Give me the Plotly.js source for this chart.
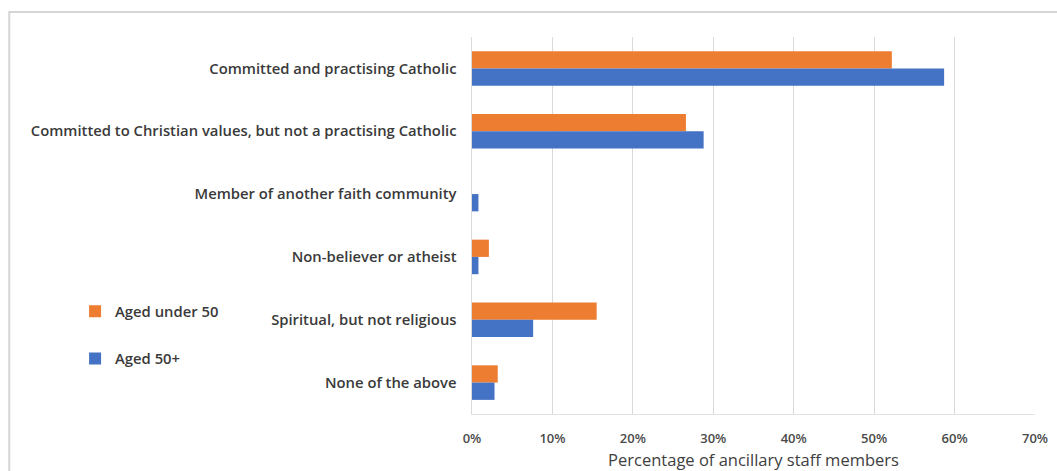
<!DOCTYPE html>
<html>
<head>
<meta charset="utf-8">
<script src="https://cdn.plot.ly/plotly-3.0.1.min.js"></script>
<style>
  html, body { margin: 0; padding: 0; background: #ffffff; }
  #chart { width: 1057px; height: 471px; }
</style>
</head>
<body>
<div id="chart"></div>
<script>
const categories = [
  "Committed and practising Catholic",
  "Committed to Christian values, but not a practising Catholic",
  "Member of another faith community",
  "Non-believer or atheist",
  "Spiritual, but not religious",
  "None of the above"
];
const under50 = [0.522, 0.266, 0.0, 0.021, 0.155, 0.032];
const over50 = [0.587, 0.288, 0.008, 0.008, 0.076, 0.028];
const seriesNames = ["Aged under 50", "Aged 50+"];
const xTicks = [0, 0.1, 0.2, 0.3, 0.4, 0.5, 0.6, 0.7];
const xTickLabels = ["0%", "10%", "20%", "30%", "40%", "50%", "60%", "70%"];
const axisTitle = "Percentage of ancillary staff members";

const font = "Open Sans, Noto Sans, Liberation Sans, sans-serif";

const traces = [
  {
    type: "bar", orientation: "h", name: seriesNames[0],
    x: under50, y: categories,
    marker: { color: "#ED7D31" },
    legendgroup: "a", hoverinfo: "x+y"
  },
  {
    type: "bar", orientation: "h", name: seriesNames[1],
    x: over50, y: categories,
    marker: { color: "#4472C4" },
    legendgroup: "b", hoverinfo: "x+y"
  }
];

const layout = {
  width: 1057, height: 471,
  margin: { l: 472, r: 22, t: 37, b: 57 },
  paper_bgcolor: "#ffffff",
  plot_bgcolor: "#ffffff",
  barmode: "group",
  bargap: 0.45,
  bargroupgap: 0,
  font: { family: font, size: 12, color: "#404040" },
  xaxis: {
    range: [0, 0.7],
    tickvals: xTicks,
    ticktext: xTickLabels,
    showgrid: true,
    gridcolor: "#d9d9d9",
    gridwidth: 1,
    zeroline: false,
    showline: true,
    linecolor: "#e3e3e3",
    mirror: false,
    ticks: "outside",
    ticklen: 12,
    tickcolor: "rgba(0,0,0,0)",
    tickfont: { family: font, size: 13, color: "#4a4a4a", weight: 600 },
    title: { text: axisTitle, font: { family: font, size: 16.5, color: "#404040" }, standoff: 9 },
    fixedrange: true
  },
  yaxis: {
    type: "category",
    autorange: "reversed",
    showgrid: false,
    zeroline: false,
    showline: true,
    linecolor: "#d9d9d9",
    ticks: "",
    ticksuffix: "   ",
    tickfont: { family: font, size: 14.8, color: "#3a3a3a", weight: 600 },
    fixedrange: true
  },
  legend: {
    x: -0.705, y: 0.315, xanchor: "left", yanchor: "top",
    traceorder: "grouped",
    tracegroupgap: 25,
    font: { family: font, size: 14.8, color: "#3a3a3a", weight: 600 },
    bgcolor: "rgba(0,0,0,0)",
    itemwidth: 30
  },
  shapes: [
    {
      type: "rect", xref: "paper", yref: "paper",
      x0: -0.822, x1: 1.06, y0: -0.16, y1: 1.066,
      line: { color: "#d6d6d6", width: 2 },
      fillcolor: "rgba(0,0,0,0)", layer: "below"
    }
  ],
  showlegend: true
};

Plotly.newPlot("chart", traces, layout, { displayModeBar: false, staticPlot: true });
</script>
</body>
</html>
